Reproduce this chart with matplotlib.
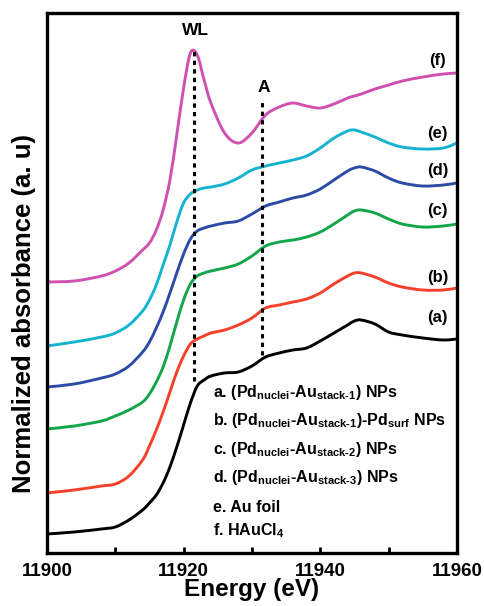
import matplotlib
matplotlib.use("Agg")
import matplotlib.pyplot as plt
from matplotlib.path import Path
from matplotlib.patches import PathPatch
from matplotlib.ticker import MultipleLocator
import numpy as np

plt.rcParams['font.family'] = ['Liberation Sans', 'DejaVu Sans']
plt.rcParams['font.weight'] = 'bold'
plt.rcParams['mathtext.fontset'] = 'custom'
plt.rcParams['mathtext.rm'] = 'Liberation Sans:bold'
plt.rcParams['mathtext.bf'] = 'Liberation Sans:bold'
plt.rcParams['mathtext.it'] = 'Liberation Sans:bold'

# Au L3-edge XANES, normalized absorbance per sample
energy = [11900, 11904, 11908, 11910, 11912, 11914, 11915, 11916, 11917, 11918,
          11919, 11920, 11921, 11922, 11923, 11924, 11926, 11928, 11930, 11932,
          11934, 11936, 11938, 11940, 11942, 11944, 11945, 11946, 11948, 11950,
          11952, 11955, 11958, 11960]

mu_a = [0.000, 0.010, 0.025, 0.035, 0.070, 0.120, 0.155, 0.195, 0.255, 0.335,
        0.435, 0.545, 0.655, 0.740, 0.770, 0.790, 0.805, 0.810, 0.840, 0.885,
        0.905, 0.920, 0.930, 0.965, 1.005, 1.045, 1.065, 1.070, 1.050, 1.010,
        0.995, 0.980, 0.970, 0.975]
mu_b = [0.000, 0.015, 0.035, 0.045, 0.085, 0.165, 0.235, 0.315, 0.405, 0.505,
        0.605, 0.685, 0.745, 0.770, 0.785, 0.800, 0.815, 0.840, 0.875, 0.925,
        0.940, 0.955, 0.970, 1.000, 1.045, 1.085, 1.100, 1.100, 1.080, 1.050,
        1.030, 1.015, 1.015, 1.025]
mu_c = [0.000, 0.015, 0.040, 0.065, 0.095, 0.135, 0.175, 0.235, 0.310, 0.415,
        0.535, 0.645, 0.725, 0.765, 0.780, 0.790, 0.805, 0.825, 0.865, 0.915,
        0.935, 0.945, 0.960, 0.985, 1.025, 1.070, 1.090, 1.095, 1.080, 1.050,
        1.025, 1.010, 1.015, 1.025]
mu_d = [0.000, 0.015, 0.045, 0.065, 0.105, 0.175, 0.225, 0.295, 0.375, 0.470,
        0.570, 0.665, 0.740, 0.780, 0.795, 0.805, 0.820, 0.830, 0.865, 0.905,
        0.925, 0.945, 0.960, 0.990, 1.035, 1.080, 1.095, 1.100, 1.080, 1.045,
        1.020, 1.005, 1.010, 1.020]
mu_e = [0.000, 0.020, 0.045, 0.065, 0.105, 0.175, 0.230, 0.305, 0.405, 0.505,
        0.620, 0.715, 0.760, 0.780, 0.790, 0.795, 0.810, 0.840, 0.880, 0.900,
        0.915, 0.930, 0.950, 0.990, 1.040, 1.075, 1.080, 1.070, 1.045, 1.015,
        0.995, 0.985, 0.990, 1.015]
mu_f = [0.000, 0.005, 0.030, 0.055, 0.095, 0.160, 0.195, 0.260, 0.360, 0.510,
        0.735, 0.970, 1.145, 1.135, 1.010, 0.895, 0.745, 0.695, 0.745, 0.835,
        0.875, 0.895, 0.880, 0.870, 0.890, 0.920, 0.930, 0.940, 0.965, 0.985,
        1.005, 1.025, 1.040, 1.045]

spectra = [mu_a, mu_b, mu_c, mu_d, mu_e, mu_f]
offsets = [0.095, 0.30, 0.62, 0.83, 1.035, 1.355]
colors = ['#000000', '#f5402a', '#13a54a', '#2c4ba6', '#14b3d0', '#d050b0']
tags = ['(a)', '(b)', '(c)', '(d)', '(e)', '(f)']
tag_y = [1.175, 1.38, 1.715, 1.915, 2.10, 2.465]

legend_lines = [
    r'a. (Pd$_\mathbf{nuclei}$-Au$_\mathbf{stack‐1}$) NPs',
    r'b. (Pd$_\mathbf{nuclei}$-Au$_\mathbf{stack‐1}$)-Pd$_\mathbf{surf}$ NPs',
    r'c. (Pd$_\mathbf{nuclei}$-Au$_\mathbf{stack‐2}$) NPs',
    r'd. (Pd$_\mathbf{nuclei}$-Au$_\mathbf{stack‐3}$) NPs',
    'e. Au foil',
    r'f. HAuCl$_\mathbf{4}$',
]
legend_y = [0.78, 0.64, 0.495, 0.355, 0.205, 0.09]

# marker lines: white line (WL) and feature A
marks = ['WL', 'A']
mark_e = [11921.5, 11931.5]
mark_lo = [0.86, 0.99]
mark_hi = [2.51, 2.27]
mark_label_y = [2.615, 2.33]


def smooth_path(x, y):
    """Cubic Bezier path through every (x, y) point (Catmull-Rom tangents)."""
    pts = np.column_stack([x, y])
    n = len(pts)
    verts = [pts[0]]
    codes = [Path.MOVETO]
    for i in range(n - 1):
        p0 = pts[max(i - 1, 0)]
        p1 = pts[i]
        p2 = pts[i + 1]
        p3 = pts[min(i + 2, n - 1)]
        verts += [p1 + (p2 - p0) / 6, p2 - (p3 - p1) / 6, p2]
        codes += [Path.CURVE4] * 3
    return Path(verts, codes)


fig = plt.figure(figsize=(4.84, 6.06), dpi=100)
ax = fig.add_axes([0.097, 0.0875, 0.847, 0.891])

for mu, off, c in zip(spectra, offsets, colors):
    path = smooth_path(energy, np.array(mu) + off)
    ax.add_patch(PathPatch(path, fill=False, edgecolor=c, lw=2.1,
                           capstyle='round', joinstyle='round'))

for e, lo, hi, name, ly in zip(mark_e, mark_lo, mark_hi, marks, mark_label_y):
    ax.plot([e, e], [lo, hi], color='black', lw=2.2, linestyle=(0, (1.4, 1.4)))
    ax.text(e + 0.3, ly, name, ha='center', va='center', fontsize=12.5, fontweight='bold')

for t, ty in zip(tags, tag_y):
    ax.text(11957.2, ty, t, ha='center', va='center', fontsize=12, fontweight='bold')

for line, ly in zip(legend_lines, legend_y):
    ax.text(11924.3, ly, line, ha='left', va='baseline', fontsize=11.5, fontweight='bold')

ax.set_xlim(11900, 11960)
ax.set_ylim(0, 2.70)
ax.xaxis.set_major_locator(MultipleLocator(20))
ax.xaxis.set_minor_locator(MultipleLocator(10))
ax.tick_params(axis='x', which='both', direction='in', length=4, width=2,
               labelsize=13.5, pad=7, top=False)
ax.tick_params(axis='y', left=False, labelleft=False)
for lbl in ax.get_xticklabels():
    lbl.set_fontweight('bold')
for s in ax.spines.values():
    s.set_linewidth(2.4)

ax.set_xlabel('Energy (eV)', fontsize=17.5, fontweight='bold', labelpad=-1)
fig.text(0.049, 0.482, 'Normalized absorbance (a. u)', rotation=90,
         ha='center', va='center', fontsize=18.5, fontweight='bold')

fig.savefig('out.png', dpi=100)
